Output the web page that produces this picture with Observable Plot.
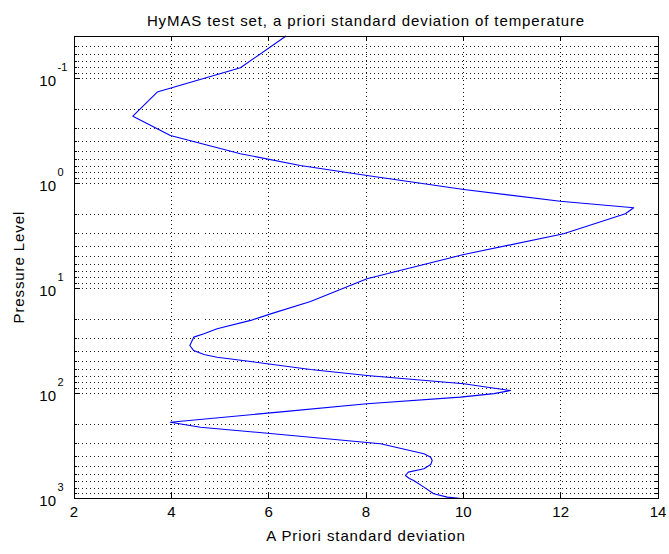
<!DOCTYPE html>
<html>
<head>
<meta charset="utf-8">
<script src="https://cdn.jsdelivr.net/npm/d3@7"></script>
<script src="https://cdn.jsdelivr.net/npm/@observablehq/plot@0.6"></script>
<style>
  html, body { margin: 0; padding: 0; background: #fff; }
  svg { display: block; }
</style>
</head>
<body>
<div id="chart"></div>
<script>
// Pressure levels (top to bottom) and a priori standard deviation of temperature
const pressure = [0.04, 0.080, 0.136, 0.231, 0.352, 0.526, 0.681, 0.848, 1.15, 1.49, 1.72, 1.96,
  3.04, 4.79, 8.15, 13.4, 17.6, 20.3, 24.4, 27.2, 29.3, 35.2, 39.3, 42.9, 45.5, 50.0, 59.6, 67.9,
  81.5, 94.4, 101, 109, 126, 150, 189, 211, 249, 303, 378, 407, 438, 478, 525, 565, 608, 649,
  678, 785, 908, 977, 1000];
const stdev = [6.35, 5.42, 3.71, 3.21, 3.98, 5.42, 6.65, 8.02, 10.01, 11.99, 13.50, 13.33,
  12.06, 10.01, 8.02, 6.86, 6.04, 5.63, 4.94, 4.67, 4.46, 4.38, 4.46, 4.67, 4.94, 5.63, 6.86, 8.02,
  10.01, 10.97, 10.63, 9.94, 8.02, 6.31, 3.98, 4.60, 6.31, 8.30, 9.19, 9.33, 9.36, 9.33, 9.19, 8.87, 8.81, 8.89,
  8.98, 9.19, 9.39, 9.67, 9.91];

const xTicks = [2, 4, 6, 8, 10, 12, 14];
const yTicks = [0.1, 1, 10, 100, 1000];
const yExponents = ["-1", "0", "1", "2", "3"];

const titleText = "HyMAS test set, a priori standard deviation of temperature";
const xLabel = "A Priori standard deviation";
const yLabel = "Pressure Level";

const data = pressure.map((p, i) => ({p, v: stdev[i]}));

const W = 669, H = 554;
const mL = 73.5, mR = 11.5, mT = 35.7, mB = 56.3;
const pw = W - mL - mR, ph = H - mT - mB;

const yDomain = [0.04, 1000];
const yGrid = d3.scaleLog().domain(yDomain).ticks().filter(d => d >= yDomain[0] && d <= yDomain[1]);
const yMinor = yGrid.filter(d => !yTicks.includes(d));
const xInner = xTicks.slice(1, -1);

const font = "Liberation Sans, Arial, Helvetica, sans-serif";
const ls = "0.9px";

const chart = Plot.plot({
  width: W, height: H,
  marginLeft: mL, marginRight: mR, marginTop: mT, marginBottom: mB,
  style: {fontFamily: font, background: "#fff", color: "#000"},
  x: {domain: [2, 14], axis: null},
  y: {type: "log", domain: yDomain, reverse: true, axis: null},
  marks: [
    // grid
    Plot.ruleY(yGrid, {y: d => d, stroke: "#000", strokeDasharray: "1,3", strokeOpacity: 0.9, shapeRendering: "crispEdges"}),
    Plot.ruleX(xInner, {x: d => d, stroke: "#000", strokeDasharray: "1,3", strokeOpacity: 0.9, shapeRendering: "crispEdges"}),
    // data line
    Plot.line(data, {x: "v", y: "p", stroke: "#0000ff", strokeWidth: 1.1}),
    // frame
    Plot.frame({stroke: "#000", strokeWidth: 1, shapeRendering: "crispEdges"}),
    // inward tick marks
    Plot.tickX(xTicks, {x: d => d, insetTop: ph - 5, stroke: "#000", shapeRendering: "crispEdges"}),
    Plot.tickX(xTicks, {x: d => d, insetBottom: ph - 5, stroke: "#000", shapeRendering: "crispEdges"}),
    Plot.tickY(yTicks, {y: d => d, insetRight: pw - 6, stroke: "#000", shapeRendering: "crispEdges"}),
    Plot.tickY(yTicks, {y: d => d, insetLeft: pw - 6, stroke: "#000", shapeRendering: "crispEdges"}),
    Plot.tickY(yMinor, {y: d => d, insetRight: pw - 3, stroke: "#000", shapeRendering: "crispEdges"}),
    Plot.tickY(yMinor, {y: d => d, insetLeft: pw - 3, stroke: "#000", shapeRendering: "crispEdges"}),
    // x tick labels
    Plot.text(xTicks, {x: d => d, frameAnchor: "bottom", dy: 19, text: d => String(d), fontSize: 15, fill: "#000"}),
    // y tick labels: base and exponent
    Plot.text(yTicks, {y: d => d, frameAnchor: "left", dx: -18, dy: 3, text: () => "10", textAnchor: "end", fontSize: 15, fill: "#000"}),
    Plot.text(yTicks, {y: d => d, frameAnchor: "left", dx: -16.5, dy: -11, text: (d, i) => yExponents[i], textAnchor: "start", fontSize: 11, fill: "#000"}),
    // title and axis labels
    Plot.text([titleText], {frameAnchor: "top", dy: -21, text: d => d, textAnchor: "middle", fontSize: 15, fill: "#000"}),
    Plot.text([xLabel], {frameAnchor: "bottom", dy: 43, text: d => d, textAnchor: "middle", fontSize: 15, fill: "#000"}),
    Plot.text([yLabel], {frameAnchor: "left", dx: -54.5, rotate: -90, text: d => d, textAnchor: "middle", fontSize: 15, fill: "#000"})
  ]
});
// apply letter spacing to label texts
chart.querySelectorAll("text").forEach(t => {
  const s = t.textContent;
  if (s === titleText || s === xLabel || s === yLabel) t.style.letterSpacing = ls;
});
document.getElementById("chart").appendChild(chart);
</script>
</body>
</html>
